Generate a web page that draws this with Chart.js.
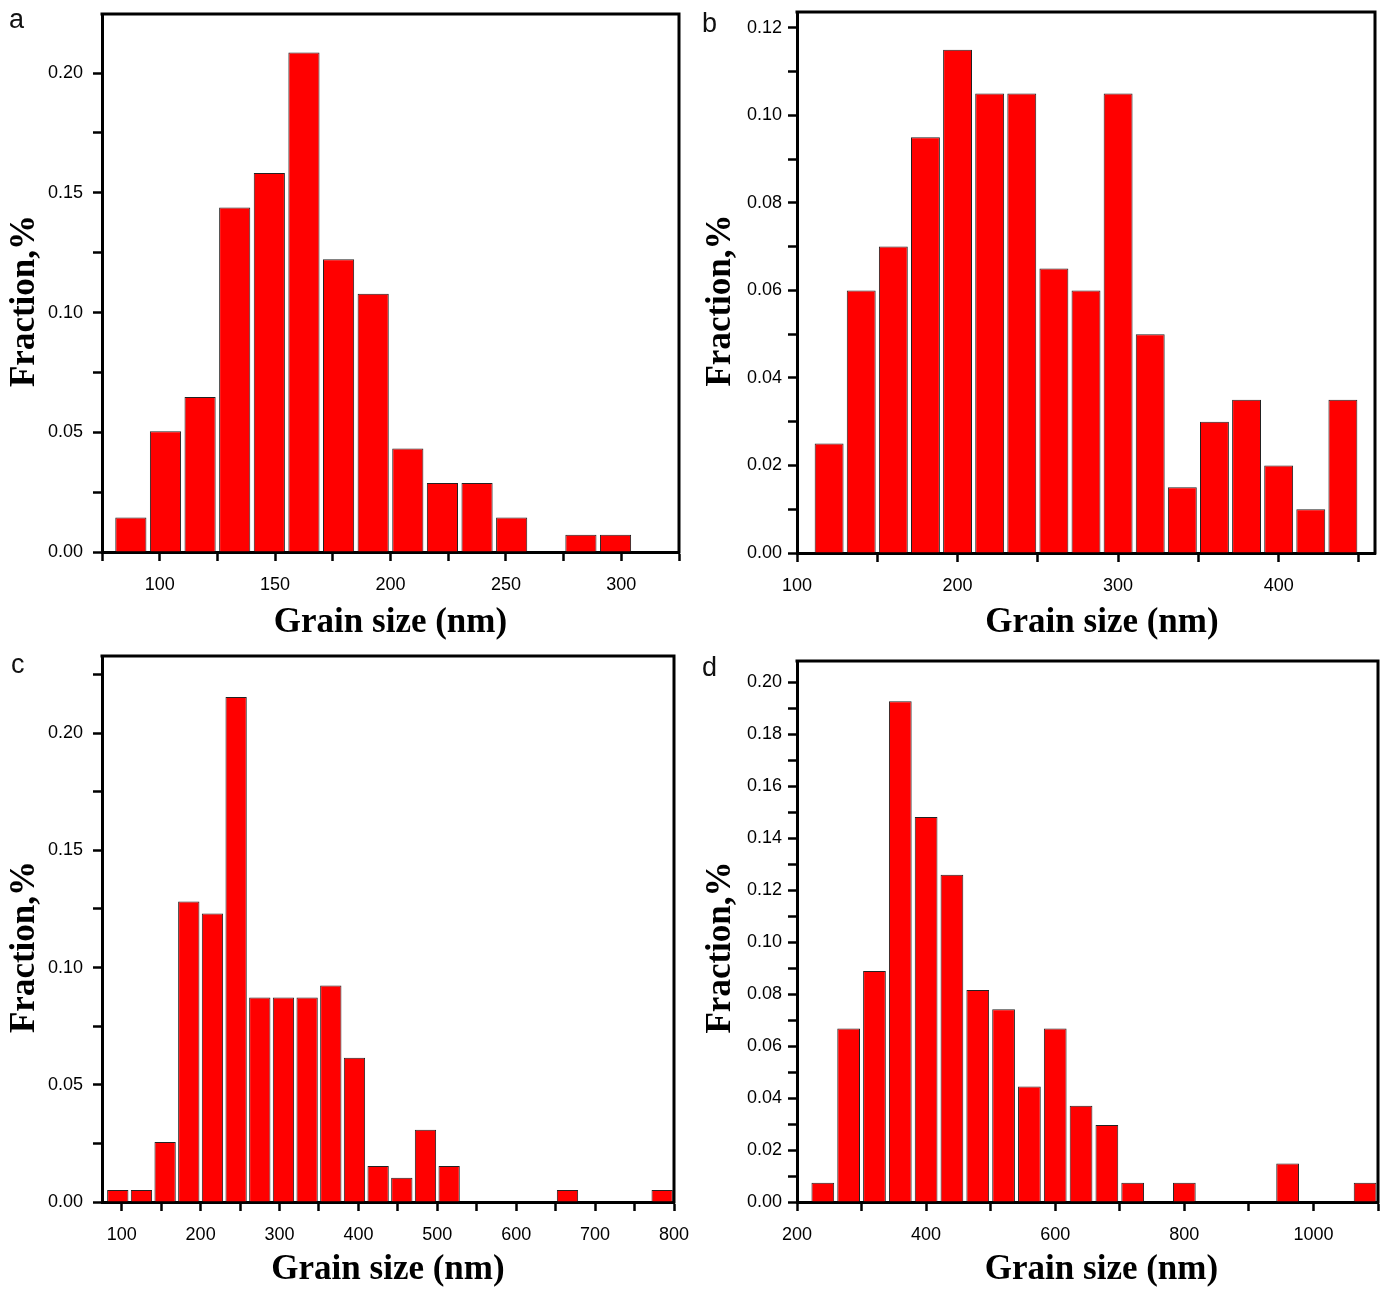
<!DOCTYPE html>
<html><head><meta charset="utf-8">
<script src="https://cdn.jsdelivr.net/npm/chart.js@4.4.0/dist/chart.umd.min.js"></script>
<style>
body{margin:0;background:#fff;width:1384px;height:1289px;position:relative;overflow:hidden}
canvas{position:absolute}
.lbl{position:absolute;font-family:'Liberation Sans',Arial,sans-serif;font-size:27px;color:#111;line-height:1}
</style></head><body>
<canvas id="ca" width="692" height="645" style="left:0;top:0"></canvas>
<canvas id="cb" width="692" height="645" style="left:692px;top:0"></canvas>
<canvas id="cc" width="692" height="644" style="left:0;top:645px"></canvas>
<canvas id="cd" width="692" height="644" style="left:692px;top:645px"></canvas>
<div class="lbl" style="left:9px;top:6px">a</div>
<div class="lbl" style="left:702px;top:10px">b</div>
<div class="lbl" style="left:11px;top:651px">c</div>
<div class="lbl" style="left:702px;top:654px">d</div>
<script>
// ---- Panel a ----
const binsA = [87.5,102.5,117.5,132.5,147.5,162.5,177.5,192.5,207.5,222.5,237.5,252.5,267.5,282.5,297.5];
const fracA = [0.0144,0.0504,0.0647,0.1439,0.1583,0.2086,0.1223,0.1079,0.0432,0.0288,0.0288,0.0144,0,0.0072,0.0072];
const xTicksA = [75,100,125,150,175,200,225,250,275,300,325];
const xLabelsA = [100,150,200,250,300];
const yTicksA = [0,0.025,0.05,0.075,0.1,0.125,0.15,0.175,0.2];
const yLabelsA = [0,0.05,0.1,0.15,0.2];

// ---- Panel b ----
const binsB = [120,140,160,180,200,220,240,260,280,300,320,340,360,380,400,420,440];
const fracB = [0.025,0.060,0.070,0.095,0.115,0.105,0.105,0.065,0.060,0.105,0.050,0.015,0.030,0.035,0.020,0.010,0.035];
const xTicksB = [100,150,200,250,300,350,400,450];
const xLabelsB = [100,200,300,400];
const yTicksB = [0,0.01,0.02,0.03,0.04,0.05,0.06,0.07,0.08,0.09,0.10,0.11,0.12];
const yLabelsB = [0,0.02,0.04,0.06,0.08,0.10,0.12];

// ---- Panel c ----
const binsC = [95,125,155,185,215,245,275,305,335,365,395,425,455,485,515,545,575,605,635,665,695,725,755,785];
const fracC = [0.0051,0.0051,0.0256,0.1282,0.1231,0.2154,0.0872,0.0872,0.0872,0.0923,0.0615,0.0154,0.0103,0.0308,0.0154,0,0,0,0,0.0051,0,0,0,0.0051];
const xTicksC = [100,150,200,250,300,350,400,450,500,550,600,650,700,750,800];
const xLabelsC = [100,200,300,400,500,600,700,800];
const yTicksC = [0,0.025,0.05,0.075,0.1,0.125,0.15,0.175,0.2,0.225];
const yLabelsC = [0,0.05,0.1,0.15,0.2];

// ---- Panel d ----
const binsD = [240,280,320,360,400,440,480,520,560,600,640,680,720,760,800,840,880,920,960,1000,1040,1080];
const fracD = [0.0074,0.0667,0.0889,0.1926,0.1481,0.1259,0.0815,0.0741,0.0444,0.0667,0.0370,0.0296,0.0074,0,0.0074,0,0,0,0.0148,0,0,0.0074];
const xTicksD = [200,300,400,500,600,700,800,900,1000,1100];
const xLabelsD = [200,400,600,800,1000];
const yTicksD = [0,0.01,0.02,0.03,0.04,0.05,0.06,0.07,0.08,0.09,0.10,0.11,0.12,0.13,0.14,0.15,0.16,0.17,0.18,0.19,0.20];
const yLabelsD = [0,0.02,0.04,0.06,0.08,0.10,0.12,0.14,0.16,0.18,0.20];

const xTitle = 'Grain size (nm)';
const yTitle = 'Fraction,%';

const titleFontFamily = "'Liberation Serif', 'Times New Roman', serif";
const tickFont = {family: "'Liberation Sans', Arial, sans-serif", size: 18};

// frame (top/right border) + axis titles
const framePlugin = {
  id: 'frame',
  afterDraw(chart, args, o) {
    const {ctx, chartArea: {left, right, top, bottom}} = chart;
    ctx.save();
    ctx.strokeStyle = '#000';
    ctx.lineWidth = 3;
    ctx.beginPath();
    ctx.moveTo(left - 1.5, top);
    ctx.lineTo(right, top);
    ctx.lineTo(right, bottom + 1.5);
    ctx.stroke();
    ctx.fillStyle = '#000';
    ctx.textAlign = 'center';
    ctx.textBaseline = 'alphabetic';
    ctx.font = 'bold 35px ' + titleFontFamily;
    ctx.fillText(o.xText, (left + right) / 2 + o.xDx, o.xBase);
    ctx.translate(o.yBase, (top + bottom) / 2 + o.yDy);
    ctx.rotate(-Math.PI / 2);
    ctx.fillText(o.yText, 0, 0);
    ctx.restore();
  }
};

const has = (arr, v) => arr.some(a => Math.abs(a - v) < 1e-9);

function makeChart(id, c) {
  return new Chart(document.getElementById(id), {
    type: 'bar',
    data: {
      datasets: [{
        data: c.bins.map((b, i) => ({x: b, y: c.vals[i] > 0 ? c.vals[i] : null})),
        backgroundColor: '#ff0000',
        borderColor: '#222',
        borderWidth: 1,
        borderSkipped: 'start',
        barPercentage: c.barPct,
        categoryPercentage: 1
      }]
    },
    options: {
      responsive: false, animation: false, devicePixelRatio: 1,
      layout: {padding: {left: 0, right: c.padR, top: c.padT, bottom: 0}},
      plugins: {
        legend: {display: false}, tooltip: {enabled: false},
        frame: {xText: xTitle, yText: yTitle, xDx: c.xDx, xBase: c.xBase, yBase: c.yBase, yDy: c.yDy}
      },
      scales: {
        x: {
          type: 'linear', min: c.xMin, max: c.xMax, offset: false,
          afterBuildTicks: s => { s.ticks = c.xTicks.map(v => ({value: v})); },
          afterFit: s => { s.height = c.xH; s.paddingLeft = 0; s.paddingRight = 0; },
          ticks: {autoSkip: false, maxRotation: 0, padding: 13, font: tickFont, color: '#000',
                  callback: v => has(c.xLabels, v) ? String(v) : ''},
          grid: {offset: false, drawOnChartArea: false, drawTicks: true, tickLength: 9, tickWidth: 2.5, tickColor: '#000'},
          border: {display: true, color: '#000', width: 3}
        },
        y: {
          type: 'linear', min: 0, max: c.yMax,
          afterBuildTicks: s => { s.ticks = c.yTicks.map(v => ({value: v})); },
          afterFit: s => { s.width = c.yW; s.paddingTop = 0; s.paddingBottom = 0; },
          ticks: {autoSkip: false, padding: c.yPad, font: tickFont, color: '#000',
                  callback: v => has(c.yLabels, v) ? v.toFixed(2) : ''},
          grid: {drawOnChartArea: false, drawTicks: true, tickLength: 9, tickWidth: 2.5, tickColor: '#000'},
          border: {display: true, color: '#000', width: 3}
        }
      }
    },
    plugins: [framePlugin]
  });
}

makeChart('ca', {bins: binsA, vals: fracA, xTicks: xTicksA, xLabels: xLabelsA, yTicks: yTicksA, yLabels: yLabelsA,
  xMin: 75, xMax: 325, yMax: 0.2247, padR: 13, padT: 14, xH: 93, yW: 102, yPad: 10, barPct: 0.9,
  xDx: 0, xBase: 632, yBase: 34, yDy: 18});
makeChart('cb', {bins: binsB, vals: fracB, xTicks: xTicksB, xLabels: xLabelsB, yTicks: yTicksB, yLabels: yLabelsB,
  xMin: 100, xMax: 460, yMax: 0.1236, padR: 9, padT: 12, xH: 92, yW: 105, yPad: 6, barPct: 0.9,
  xDx: 16, xBase: 632, yBase: 38, yDy: 18});
makeChart('cc', {bins: binsC, vals: fracC, xTicks: xTicksC, xLabels: xLabelsC, yTicks: yTicksC, yLabels: yLabelsC,
  xMin: 75, xMax: 800, yMax: 0.2329, padR: 18, padT: 11, xH: 87, yW: 102, yPad: 10, barPct: 0.9,
  xDx: 0, xBase: 634, yBase: 34, yDy: 18});
makeChart('cd', {bins: binsD, vals: fracD, xTicks: xTicksD, xLabels: xLabelsD, yTicks: yTicksD, yLabels: yLabelsD,
  xMin: 200, xMax: 1100, yMax: 0.2081, padR: 6, padT: 16, xH: 87, yW: 105, yPad: 6, barPct: 0.88,
  xDx: 14, xBase: 634, yBase: 38, yDy: 16});
</script>
</body></html>
